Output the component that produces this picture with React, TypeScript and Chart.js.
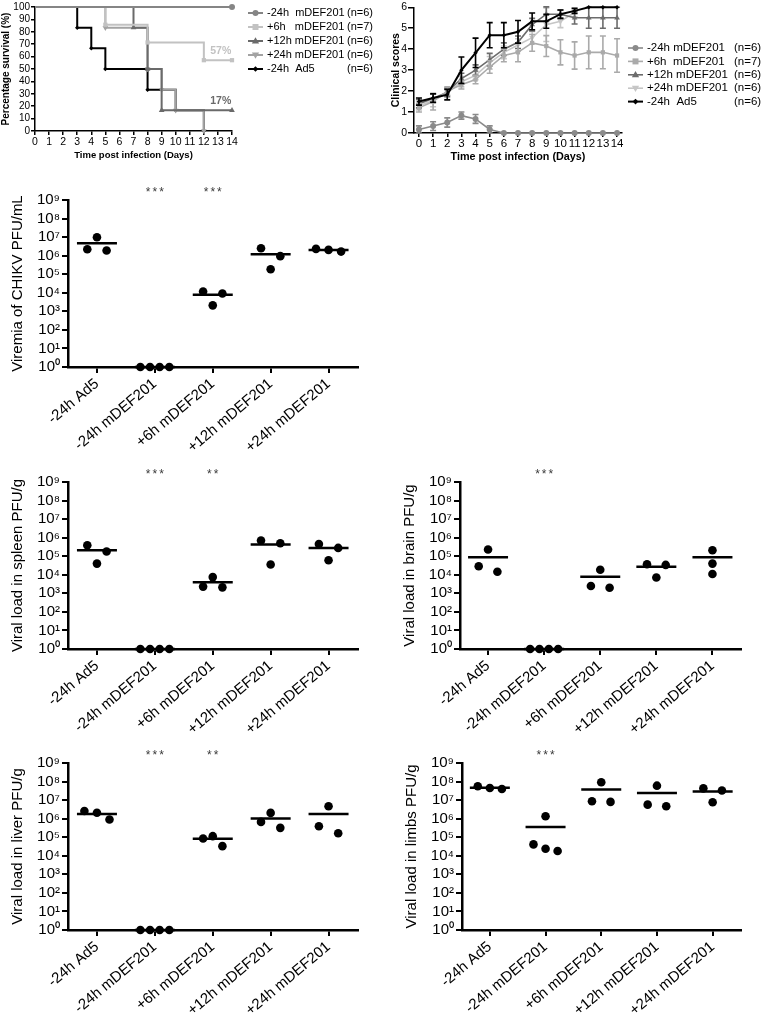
import React, { useEffect, useRef } from 'react';
import { Chart, registerables } from 'chart.js';

Chart.register(...registerables);

const FONT = "'Liberation Sans', Arial, Helvetica, sans-serif";

// ---------------- Survival (Kaplan-Meier) ----------------
const survLabels = ['-24h  mDEF201', '+6h   mDEF201', '+12h mDEF201', '+24h mDEF201', '-24h  Ad5'];
const survN = ['(n=6)', '(n=7)', '(n=6)', '(n=6)', '(n=6)'];
const survCtrlDays = [0, 14];
const survCtrlPct = [100, 100];
const survP6Days = [0, 5, 8, 12, 14];
const survP6Pct = [100, 85.7, 71.4, 57.1, 57.1];
const survP12Days = [0, 7, 8, 9, 14];
const survP12Pct = [100, 83.3, 50, 16.7, 16.7];
const survP24Days = [0, 5, 8, 9, 10, 12];
const survP24Pct = [100, 83.3, 50, 33.3, 16.7, 0];
const survAd5Days = [0, 3, 4, 5, 8, 10, 12];
const survAd5Pct = [100, 83.3, 66.7, 50, 33.3, 16.7, 0];
const survNoteText = ['57%', '17%'];
const survNoteSeries = [1, 2];
const survNoteDay = [13.2, 13.2];
const dayTicks = [0, 1, 2, 3, 4, 5, 6, 7, 8, 9, 10, 11, 12, 13, 14];
const survPctTicks = [0, 10, 20, 30, 40, 50, 60, 70, 80, 90, 100];

// ---------------- Clinical scores ----------------
const clinLabels = ['-24h mDEF201', '+6h  mDEF201', '+12h mDEF201', '+24h mDEF201', '-24h  Ad5'];
const clinN = ['(n=6)', '(n=7)', '(n=6)', '(n=6)', '(n=6)'];
const clinCtrl = [0.17, 0.33, 0.5, 0.83, 0.67, 0.17, 0, 0, 0, 0, 0, 0, 0, 0, 0];
const clinCtrlSem = [0.17, 0.21, 0.22, 0.17, 0.21, 0.17, 0, 0, 0, 0, 0, 0, 0, 0, 0];
const clinP6 = [1.2, 1.5, 2.0, 2.3, 2.55, 3.15, 3.7, 3.85, 4.3, 4.15, 3.85, 3.7, 3.85, 3.85, 3.7];
const clinP6Sem = [0.2, 0.4, 0.2, 0.2, 0.2, 0.3, 0.3, 0.45, 0.4, 0.5, 0.6, 0.65, 0.78, 0.78, 0.8];
const clinP12 = [1.4, 1.65, 1.95, 2.6, 3.0, 3.5, 4.0, 4.33, 5.17, 5.67, 5.67, 5.5, 5.5, 5.5, 5.5];
const clinP12Sem = [0.2, 0.2, 0.2, 0.25, 0.25, 0.3, 0.3, 0.3, 0.3, 0.35, 0.2, 0.3, 0.5, 0.5, 0.5];
const clinP24 = [1.3, 1.55, 1.9, 2.45, 2.75, 3.35, 3.85, 4.2, 4.55, 5.17, 5.33, 5.75];
const clinP24Sem = [0.2, 0.3, 0.2, 0.25, 0.2, 0.3, 0.3, 0.3, 0.3, 0.8, 0.3, 0.2];
const clinAd5 = [1.5, 1.67, 1.83, 3.0, 3.83, 4.67, 4.67, 4.83, 5.33, 5.33, 5.67, 5.83, 6, 6, 6];
const clinAd5Sem = [0.17, 0.2, 0.25, 0.63, 0.7, 0.6, 0.6, 0.54, 0.4, 0.33, 0.2, 0.12, 0, 0, 0];
const clinScoreTicks = [0, 1, 2, 3, 4, 5, 6];

// ---------------- Viral loads (log scale) ----------------
const groupLabels = ['-24h Ad5', '-24h mDEF201', '+6h mDEF201', '+12h mDEF201', '+24h mDEF201'];
const decades = [0, 1, 2, 3, 4, 5, 6, 7, 8, 9];

const viremiaValues = [[2.2e6, 9.8e6, 1.9e6], [1, 1, 1, 1], [1.17e4, 2.1e3, 9.2e3], [2.5e6, 1.87e5, 9.4e5], [2.33e6, 2.05e6, 1.66e6]];
const viremiaMeans = [4.7e6, 1, 7.8e3, 1.2e6, 2.0e6];
const viremiaStars = ['', '***', '***', '', ''];

const spleenValues = [[3.9e5, 4.0e4, 1.8e5], [1, 1, 1, 1], [2.3e3, 7.5e3, 2.1e3], [7.0e5, 3.6e4, 5.0e5], [4.5e5, 6.1e4, 2.8e5]];
const spleenMeans = [2.1e5, 1, 4.0e3, 4.3e5, 2.75e5];
const spleenStars = ['', '***', '**', '', ''];

const brainValues = [[2.9e4, 2.3e5, 1.45e4], [1, 1, 1, 1], [2.5e3, 1.85e4, 2.0e3], [3.7e4, 7.2e3, 3.4e4], [2.1e5, 4.0e4, 1.1e4]];
const brainMeans = [8.9e4, 1, 7.8e3, 2.7e4, 8.9e4];
const brainStars = ['', '***', '', '', ''];

const liverValues = [[2.6e6, 2.1e6, 9.0e5], [1, 1, 1, 1], [8.6e4, 1.14e5, 3.3e4], [6.7e5, 2.05e6, 3.2e5], [3.9e5, 4.7e6, 1.65e5]];
const liverMeans = [1.8e6, 1, 8.2e4, 1.02e6, 1.8e6];
const liverStars = ['', '***', '**', '', ''];

const limbsValues = [[5.6e7, 4.5e7, 4.0e7], [4.1e4, 1.36e6, 2.4e4, 1.8e4], [8.7e6, 9.1e7, 8.0e6], [5.7e6, 6.0e7, 4.7e6], [4.3e7, 7.7e6, 3.3e7]];
const limbsMeans = [4.7e7, 3.6e5, 3.7e7, 2.4e7, 2.9e7];
const limbsStars = ['', '***', '', '', ''];

// ---------------- Styles ----------------
const survColors = ['#858585', '#c2c2c2', '#6a6a6a', '#a3a3a3', '#000000'];
const clinColors = ['#8a8a8a', '#aaaaaa', '#6c6c6c', '#c6c6c6', '#000000'];
const markerStyles = ['circle', 'rect', 'triangle', 'triangle', 'rectRot'];
const markerRot = [0, 0, 0, 180, 0];
const markerSize = [3, 3, 3.3, 3.3, 2.2];
const JITTER_STEP = 1 / 6; // one jitter slot, in category units
const viremiaJitter = [[-1, 0, 1], [-1.5, -0.5, 0.5, 1.5], [-1, 0, 1], [-1, 0, 1], [-1.3, 0, 1.3]];
const spleenJitter = [[-1, 0, 1], [-1.5, -0.5, 0.5, 1.5], [-1, 0, 1], [-1, 0, 1], [-1, 0, 1]];
const brainJitter = [[-1, 0, 1], [-1.5, -0.5, 0.5, 1.5], [-1, 0, 1], [-1, 0, 1], [0, 0, 0]];
const liverJitter = [[-1.3, 0, 1.3], [-1.5, -0.5, 0.5, 1.5], [-1, 0, 1], [-1, 0, 1], [-1, 0, 1]];
const limbsJitter = [[-1.3, 0, 1.3], [-1.3, 0, 0, 1.3], [-1, 0, 1], [-1, 0, 1], [-1, 0, 1]];

const SUP = ['\u2070', '\u00b9', '\u00b2', '\u00b3', '\u2074', '\u2075', '\u2076', '\u2077', '\u2078', '\u2079'];

function drawMarker(ctx: CanvasRenderingContext2D, style: string, x: number, y: number, r: number, color: string, rot: number) {
  ctx.save();
  ctx.fillStyle = color;
  ctx.beginPath();
  if (style === 'circle') {
    ctx.arc(x, y, r, 0, Math.PI * 2);
  } else if (style === 'rect') {
    ctx.rect(x - r, y - r, 2 * r, 2 * r);
  } else if (style === 'triangle') {
    const s = rot ? -1 : 1;
    ctx.moveTo(x, y - s * r * 1.15);
    ctx.lineTo(x + r * 1.1, y + s * r * 0.75);
    ctx.lineTo(x - r * 1.1, y + s * r * 0.75);
    ctx.closePath();
  } else {
    ctx.moveTo(x, y - r * 1.3);
    ctx.lineTo(x + r * 1.3, y);
    ctx.lineTo(x, y + r * 1.3);
    ctx.lineTo(x - r * 1.3, y);
    ctx.closePath();
  }
  ctx.fill();
  ctx.restore();
}

function makeLegend(cfg: { x: number; len: number; textX: number; nX: number; y0: number; dy: number; font: string }) {
  return {
    id: 'sideLegend',
    afterDraw(chart: any) {
      const ctx = chart.ctx as CanvasRenderingContext2D;
      chart.data.datasets.forEach((ds: any, i: number) => {
        const y = cfg.y0 + i * cfg.dy;
        ctx.save();
        ctx.strokeStyle = ds.borderColor;
        ctx.lineWidth = ds.borderWidth;
        ctx.beginPath();
        ctx.moveTo(cfg.x, y);
        ctx.lineTo(cfg.x + cfg.len, y);
        ctx.stroke();
        drawMarker(ctx, ds.pointStyle, cfg.x + cfg.len / 2, y, ds.legendR, ds.borderColor, ds.pointRotation);
        ctx.fillStyle = '#000';
        ctx.font = cfg.font;
        ctx.textBaseline = 'middle';
        ctx.textAlign = 'left';
        ctx.fillText(ds.label, cfg.textX, y);
        ctx.fillText(ds.n, cfg.nX, y);
        ctx.restore();
      });
    },
  };
}

const errorBars = {
  id: 'errorBars',
  beforeDatasetDraw(chart: any, args: any) {
    const ds = chart.data.datasets[args.index];
    if (!ds.sem) return;
    const ctx = chart.ctx as CanvasRenderingContext2D;
    const ys = chart.scales.y;
    ctx.save();
    ctx.strokeStyle = ds.borderColor;
    ctx.lineWidth = 1.6;
    args.meta.data.forEach((pt: any, i: number) => {
      const e = ds.sem[i];
      if (!e) return;
      const v = ds.data[i].y;
      const y1 = ys.getPixelForValue(v - e);
      const y2 = ys.getPixelForValue(v + e);
      ctx.beginPath();
      ctx.moveTo(pt.x, y1);
      ctx.lineTo(pt.x, y2);
      ctx.moveTo(pt.x - 3, y1);
      ctx.lineTo(pt.x + 3, y1);
      ctx.moveTo(pt.x - 3, y2);
      ctx.lineTo(pt.x + 3, y2);
      ctx.stroke();
    });
    ctx.restore();
  },
};

function makeNotes(texts: string[], series: number[], days: number[]) {
  return {
    id: 'survNotes',
    afterDatasetsDraw(chart: any) {
      const ctx = chart.ctx as CanvasRenderingContext2D;
      texts.forEach((t, k) => {
        const ds = chart.data.datasets[series[k]];
        const last = ds.data[ds.data.length - 1].y;
        const x = chart.scales.x.getPixelForValue(days[k]);
        const y = chart.scales.y.getPixelForValue(last) - 9;
        ctx.save();
        ctx.fillStyle = ds.borderColor;
        ctx.font = `bold 10.5px ${FONT}`;
        ctx.textAlign = 'center';
        ctx.textBaseline = 'middle';
        ctx.fillText(t, x, y);
        ctx.restore();
      });
    },
  };
}

function makeStars(stars: string[]) {
  return {
    id: 'stars',
    afterDraw(chart: any) {
      const ctx = chart.ctx as any;
      stars.forEach((s, i) => {
        if (!s) return;
        const x = chart.scales.x.getPixelForValue(i);
        const y = chart.chartArea.top - 7;
        ctx.save();
        ctx.fillStyle = '#3a3a3a';
        ctx.font = `12px ${FONT}`;
        if ('letterSpacing' in ctx) ctx.letterSpacing = '2px';
        ctx.textAlign = 'center';
        ctx.textBaseline = 'middle';
        ctx.fillText(s, x + 1, y);
        ctx.restore();
      });
    },
  };
}

const axisGrid = (len: number, w: number) => ({ drawOnChartArea: false, drawTicks: true, tickLength: len, lineWidth: w, color: '#000' });

function survivalConfig(): any {
  const days = [survCtrlDays, survP6Days, survP12Days, survP24Days, survAd5Days];
  const pct = [survCtrlPct, survP6Pct, survP12Pct, survP24Pct, survAd5Pct];
  const datasets = days.map((d, s) => ({
    label: survLabels[s],
    n: survN[s],
    legendR: markerSize[s],
    data: d.map((x, i) => ({ x, y: pct[s][i] })),
    stepped: true,
    borderColor: survColors[s],
    backgroundColor: survColors[s],
    pointBackgroundColor: survColors[s],
    borderWidth: 2,
    pointStyle: markerStyles[s],
    pointRotation: markerRot[s],
    pointRadius: d.map((_, i) => (i === 0 ? 0 : markerSize[s])),
    pointBorderWidth: 0,
    fill: false,
    clip: false,
  }));
  return {
    type: 'line',
    data: { datasets },
    options: {
      animation: false,
      responsive: false,
      devicePixelRatio: 1,
      events: [],
      layout: { padding: { left: 0, top: 6, right: 148, bottom: 0 } },
      plugins: { legend: { display: false }, tooltip: { enabled: false } },
      scales: {
        x: {
          type: 'linear', min: 0, max: 14,
          afterBuildTicks: (sc: any) => { sc.ticks = dayTicks.map((v) => ({ value: v })); },
          afterFit: (sc: any) => { sc.height = 34; sc.paddingLeft = 0; sc.paddingRight = 0; },
          grid: axisGrid(4, 1.5),
          border: { color: '#000', width: 1.5 },
          ticks: { autoSkip: false, maxRotation: 0, padding: 1, color: '#000', font: { family: FONT, size: 10.5 } },
          title: { display: true, text: 'Time post infection (Days)', color: '#000', font: { family: FONT, size: 9.5, weight: 'bold' }, padding: { top: 0, bottom: 4 } },
        },
        y: {
          type: 'linear', min: 0, max: 100,
          afterBuildTicks: (sc: any) => { sc.ticks = survPctTicks.map((v) => ({ value: v })); },
          afterFit: (sc: any) => { sc.width = 35; },
          grid: axisGrid(4, 1.5),
          border: { color: '#000', width: 1.5 },
          ticks: { autoSkip: false, padding: 1, color: '#000', font: { family: FONT, size: 10 } },
          title: { display: true, text: 'Percentage survival (%)', color: '#000', font: { family: FONT, size: 10, weight: 'bold' }, padding: { top: 0, bottom: 0 } },
        },
      },
    },
    plugins: [
      makeNotes(survNoteText, survNoteSeries, survNoteDay),
      makeLegend({ x: 248, len: 15, textX: 267, nX: 347, y0: 13, dy: 14, font: `11px ${FONT}` }),
    ],
  };
}

function clinicalConfig(): any {
  const vals = [clinCtrl, clinP6, clinP12, clinP24, clinAd5];
  const sems = [clinCtrlSem, clinP6Sem, clinP12Sem, clinP24Sem, clinAd5Sem];
  const datasets = vals.map((v, s) => ({
    label: clinLabels[s],
    n: clinN[s],
    legendR: markerSize[s],
    data: v.map((y, i) => ({ x: dayTicks[i], y })),
    sem: sems[s],
    borderColor: clinColors[s],
    backgroundColor: clinColors[s],
    pointBackgroundColor: clinColors[s],
    borderWidth: s === 4 ? 2 : 1.6,
    tension: 0,
    pointStyle: markerStyles[s],
    pointRotation: markerRot[s],
    pointRadius: markerSize[s],
    pointBorderWidth: 0,
    fill: false,
    clip: false,
    order: s === 4 ? 0 : s + 1,
  }));
  return {
    type: 'line',
    data: { datasets },
    options: {
      animation: false,
      responsive: false,
      devicePixelRatio: 1,
      events: [],
      layout: { padding: { left: 0, top: 6, right: 141, bottom: 0 } },
      plugins: { legend: { display: false }, tooltip: { enabled: false } },
      scales: {
        x: {
          type: 'linear', min: -0.35, max: 14.35,
          afterBuildTicks: (sc: any) => { sc.ticks = dayTicks.map((v) => ({ value: v })); },
          afterFit: (sc: any) => { sc.height = 32; sc.paddingLeft = 0; sc.paddingRight = 0; },
          grid: axisGrid(4, 1.5),
          border: { color: '#000', width: 1.5 },
          ticks: { autoSkip: false, maxRotation: 0, padding: 1.5, color: '#000', font: { family: FONT, size: 11.5, lineHeight: 1 } },
          title: { display: true, text: 'Time post infection (Days)', color: '#000', font: { family: FONT, size: 10.8, weight: 'bold' }, padding: { top: 0, bottom: 1.5 } },
        },
        y: {
          type: 'linear', min: 0, max: 6,
          afterBuildTicks: (sc: any) => { sc.ticks = clinScoreTicks.map((v) => ({ value: v })); },
          afterFit: (sc: any) => { sc.width = 34; },
          grid: axisGrid(6, 1.5),
          border: { color: '#000', width: 1.5 },
          ticks: { autoSkip: false, padding: 1, color: '#000', font: { family: FONT, size: 10.5 } },
          title: { display: true, text: 'Clinical scores', color: '#000', font: { family: FONT, size: 10.5, weight: 'bold' }, padding: { top: 10.2, bottom: 0 } },
        },
      },
    },
    plugins: [
      errorBars,
      makeLegend({ x: 248, len: 15, textX: 267, nX: 354, y0: 48, dy: 13.4, font: `11.5px ${FONT}` }),
    ],
  };
}

function logPanelConfig(values: number[][], means: number[], jitter: number[][], stars: string[], title: string, padRight: number): any {
  const points = values.flatMap((vals, g) => vals.map((v, j) => ({ x: g + jitter[g][j] * JITTER_STEP, y: v })));
  const meanPts = means.map((m, g) => ({ x: g, y: m }));
  return {
    type: 'scatter',
    data: {
      datasets: [
        { data: meanPts, pointStyle: 'line', pointRadius: 20, pointBorderWidth: 2.5, pointBorderColor: '#000', borderColor: '#000', backgroundColor: '#000', clip: false },
        { data: points, pointStyle: 'circle', pointRadius: 4.3, pointBorderWidth: 0, pointBackgroundColor: '#000', backgroundColor: '#000', borderColor: '#000', clip: false },
      ],
    },
    options: {
      animation: false,
      responsive: false,
      devicePixelRatio: 1,
      events: [],
      layout: { padding: { left: 0, top: 35, right: padRight, bottom: 0 } },
      plugins: { legend: { display: false }, tooltip: { enabled: false } },
      scales: {
        x: {
          type: 'linear', min: -0.5, max: 4.5,
          afterBuildTicks: (sc: any) => { sc.ticks = groupLabels.map((_, i) => ({ value: i })); },
          afterFit: (sc: any) => { sc.height = 85; sc.paddingLeft = 0; sc.paddingRight = 0; },
          grid: axisGrid(6, 2),
          border: { color: '#000', width: 2.5 },
          ticks: {
            autoSkip: false, minRotation: 40, maxRotation: 40, padding: 2, color: '#000',
            font: { family: FONT, size: 15 },
            callback: (_v: any, i: number) => groupLabels[i],
          },
        },
        y: {
          type: 'logarithmic', min: 1, max: 1e9,
          afterBuildTicks: (sc: any) => { sc.ticks = decades.map((e) => ({ value: Math.pow(10, e) })); },
          afterFit: (sc: any) => { sc.width = 68; },
          grid: axisGrid(6, 2),
          border: { color: '#000', width: 2.5 },
          ticks: {
            autoSkip: false, padding: 2, color: '#000',
            font: { family: FONT, size: 15, lineHeight: 1 },
            callback: (v: any) => '10' + SUP[Math.round(Math.log10(Number(v)))],
          },
          title: { display: true, text: title, color: '#000', font: { family: FONT, size: 15 }, padding: { top: 9, bottom: 0 } },
        },
      },
    },
    plugins: [makeStars(stars)],
  };
}

function ChartBox(props: { left: number; top: number; width: number; height: number; make: () => any }) {
  const ref = useRef<HTMLCanvasElement | null>(null);
  useEffect(() => {
    const chart = new Chart(ref.current as HTMLCanvasElement, props.make());
    return () => chart.destroy();
  }, []);
  return (
    <canvas
      ref={ref}
      width={props.width}
      height={props.height}
      style={{ position: 'absolute', left: props.left, top: props.top, width: props.width, height: props.height }}
    />
  );
}

export default function App() {
  return (
    <div style={{ position: 'absolute', left: 0, top: 0, width: 763, height: 1015, background: '#fff', overflow: 'hidden' }}>
      <ChartBox left={0} top={0} width={380} height={165} make={survivalConfig} />
      <ChartBox left={380} top={0} width={383} height={165} make={clinicalConfig} />
      <ChartBox left={0} top={165} width={380} height={287}
        make={() => logPanelConfig(viremiaValues, viremiaMeans, viremiaJitter, viremiaStars, 'Viremia of CHIKV PFU/mL', 12)} />
      <ChartBox left={0} top={447} width={380} height={287}
        make={() => logPanelConfig(spleenValues, spleenMeans, spleenJitter, spleenStars, 'Viral load in spleen PFU/g', 12)} />
      <ChartBox left={392} top={447} width={371} height={287}
        make={() => logPanelConfig(brainValues, brainMeans, brainJitter, brainStars, 'Viral load in brain PFU/g', 3)} />
      <ChartBox left={0} top={728} width={380} height={287}
        make={() => logPanelConfig(liverValues, liverMeans, liverJitter, liverStars, 'Viral load in liver PFU/g', 12)} />
      <ChartBox left={394} top={728} width={369} height={287}
        make={() => logPanelConfig(limbsValues, limbsMeans, limbsJitter, limbsStars, 'Viral load in limbs PFU/g', 3)} />
    </div>
  );
}
